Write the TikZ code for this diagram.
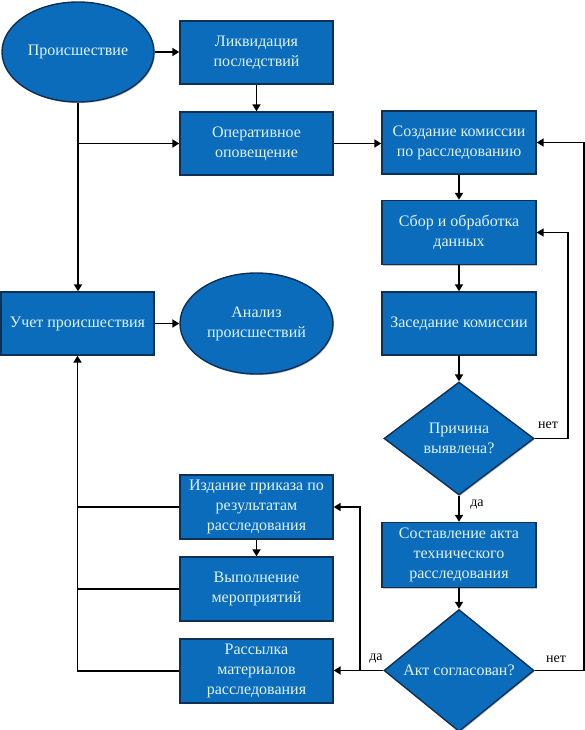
\documentclass[tikz,border=0pt]{standalone}
\usepackage{fontspec}
\setmainfont{Liberation Serif}
\usetikzlibrary{arrows.meta,shapes.geometric,shadows}
\definecolor{boxblue}{RGB}{12,108,188}
\definecolor{boxedge}{RGB}{14,48,84}
\definecolor{txtc}{RGB}{222,244,255}
\begin{document}
\begin{tikzpicture}[x=1pt,y=-1pt,
  base/.style={fill=boxblue, draw=boxedge, line width=1.4pt, text=txtc,
    align=center, font=\fontsize{16}{20}\selectfont, inner sep=1pt,
    drop shadow={shadow xshift=1pt, shadow yshift=-1.2pt, opacity=0.45}},
  box/.style={base, rectangle, minimum width=153pt, minimum height=63pt},
  oval/.style={base, ellipse, minimum width=152pt, minimum height=100pt},
  dec/.style={base, diamond, minimum width=150pt, minimum height=114pt, inner sep=0pt},
  arr/.style={line width=1.9pt, -{Triangle[length=7pt,width=8pt]}},
  ln/.style={line width=1.9pt},
  lbl/.style={font=\fontsize{14}{16}\selectfont, text=black}
]
\useasboundingbox (0,0) rectangle (585,730);

% nodes
\node[oval] (inc) at (78,52) {Происшествие};
\node[box] (liq) at (256.5,52.5) {Ликвидация\\последствий};
\node[box] (oper) at (256.5,143.5) {Оперативное\\оповещение};
\node[box, minimum width=154pt] (sozd) at (459,142.5) {Создание комиссии\\по расследованию};
\node[box, minimum width=154pt, minimum height=64pt] (sbor) at (459,232.5) {Сбор и обработка\\данных};
\node[box, minimum width=154pt] (zas) at (459,323.5) {Заседание комиссии};
\node[dec, minimum height=113pt] (prich) at (459,438.5) {Причина\\выявлена?};
\node[box, minimum width=154pt, minimum height=65pt] (sost) at (459,555) {Составление акта\\технического\\расследования};
\node[dec, minimum height=115pt] (akt) at (459,670.5) {Акт согласован?};
\node[box] (ucet) at (77.5,323.5) {Учет происшествия};
\node[oval, minimum width=153pt, minimum height=101pt] (anal) at (256.5,323.5) {Анализ\\происшествий};
\node[box, minimum height=64pt] (izd) at (256.5,507) {Издание приказа по\\результатам\\расследования};
\node[box, minimum height=64pt] (vyp) at (256.5,589) {Выполнение\\мероприятий};
\node[box, minimum height=64pt] (ras) at (256.5,671) {Рассылка\\материалов\\расследования};

% connectors
\draw[arr] (inc.east) -- (inc.east -| liq.west);
\draw[arr] (liq.south) -- (oper.north);
\draw[arr] (inc.south) -- (inc.south |- ucet.north);
\coordinate (b1) at (inc.south |- oper.west);
\draw[arr] (b1) -- (oper.west);
\draw[arr] (oper.east) -- (oper.east -| sozd.west);
\draw[arr] (sozd.south) -- (sbor.north);
\draw[arr] (sbor.south) -- (zas.north);
\draw[arr] (zas.south) -- (prich.north);
\draw[arr] (prich.east) -- ++(33,0) |- (sbor.east);
\node[lbl] (net1) at (548,425) {нет};
\draw[arr] (prich.south) -- (sost.north);
\node[lbl] (da1) at (477,505) {да};
\draw[arr] (sost.south) -- (akt.north);
\draw[arr] (akt.east) -- ++(49,0) |- (sozd.east);
\node[lbl] (net2) at (556,659) {нет};
\draw[arr] (akt.west) -- (akt.west -| ras.east);
\coordinate (b2) at ([xshift=-23pt]akt.west);
\draw[arr] (b2) |- (izd.east);
\node[lbl] (da2) at (376,659) {да};
\draw[arr] (izd.south) -- (vyp.north);
\draw[arr] (ras.west) -| (ucet.south);
\draw[ln] (izd.west) -- (izd.west -| ucet.south);
\draw[ln] (vyp.west) -- (vyp.west -| ucet.south);
\draw[arr] (ucet.east) -- (anal.west);
\end{tikzpicture}
\end{document}
